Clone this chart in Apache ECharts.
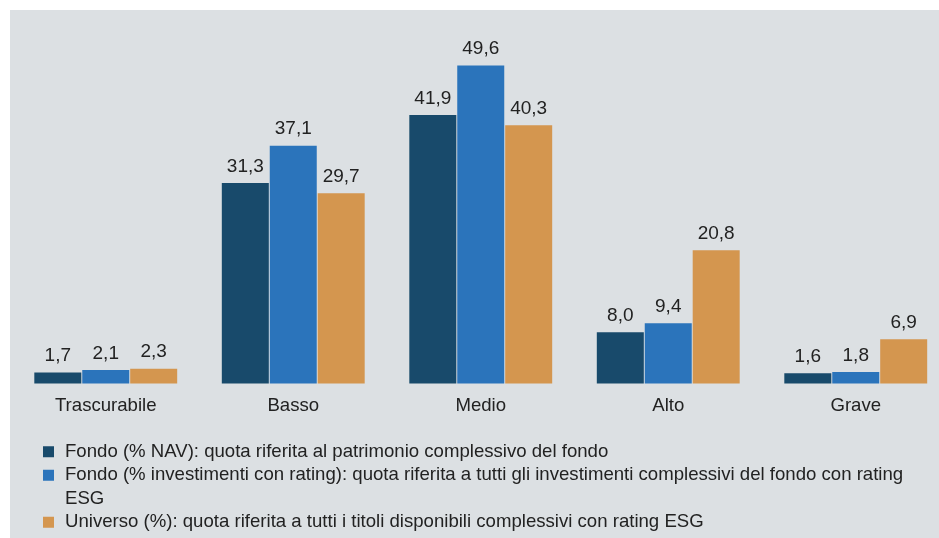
<!DOCTYPE html>
<html>
<head>
<meta charset="utf-8">
<script src="https://cdn.jsdelivr.net/npm/echarts@6/dist/echarts.min.js"></script>
<style>
  html, body { margin: 0; padding: 0; background: #fff; }
  #chart_con { width: 939px; height: 538px; }
</style>
</head>
<body>
<div id="chart_con"></div>
<script>
const categories = ["Trascurabile", "Basso", "Medio", "Alto", "Grave"];
const seriesNames = [
  "Fondo (% NAV): quota riferita al patrimonio complessivo del fondo",
  "Fondo (% investimenti con rating): quota riferita a tutti gli investimenti complessivi del fondo con rating ESG",
  "Universo (%): quota riferita a tutti i titoli disponibili complessivi con rating ESG"
];
const fondoNav = [1.7, 31.3, 41.9, 8.0, 1.6];
const fondoRating = [2.1, 37.1, 49.6, 9.4, 1.8];
const universo = [2.3, 29.7, 40.3, 20.8, 6.9];
const colors = ["#184a6b", "#2b74bb", "#d4964f"];

const fontFamily = "'Liberation Sans', Arial, sans-serif";

function makeSeries(name, data, color) {
  return {
    name: name,
    type: "bar",
    data: data,
    barWidth: 47,
    barGap: "2%",
    itemStyle: { color: color },
    label: {
      show: true,
      position: "top",
      distance: 7,
      fontSize: 19,
      fontFamily: fontFamily,
      color: "#222",
      formatter: function (p) {
        return p.value.toFixed(1).replace(".", ",");
      }
    }
  };
}

const option = {
  animation: false,
  backgroundColor: "#fff",
  color: colors,
  graphic: [
    {
      type: "rect",
      left: 10,
      top: 10,
      silent: true,
      z: -10,
      shape: { width: 929, height: 528 },
      style: { fill: "#dce0e3" }
    }
  ],
  grid: {
    left: 12,
    top: 31,
    width: 937.5,
    height: 352.5,
    outerBoundsMode: "none"
  },
  xAxis: {
    type: "category",
    data: categories,
    axisLine: { show: false },
    axisTick: { show: false },
    axisLabel: {
      fontSize: 18.6,
      fontFamily: fontFamily,
      color: "#222",
      margin: 13
    }
  },
  yAxis: {
    type: "value",
    show: false,
    min: 0,
    max: 55
  },
  // legend item text is padded so the icon lines up with the first line of the wrapped entry
  legend: {
    orient: "vertical",
    left: 43,
    top: 440,
    height: 180,
    padding: 0,
    itemGap: -23.5,
    itemWidth: 11,
    itemHeight: 11,
    icon: "rect",
    selectedMode: false,
    textStyle: {
      fontSize: 18.6,
      fontFamily: fontFamily,
      color: "#222",
      lineHeight: 23.5,
      width: 850,
      overflow: "break",
      rich: { r: {} }
    },
    data: [
      { name: seriesNames[0], textStyle: { padding: [0, 0, 0, 6] } },
      { name: seriesNames[1], textStyle: { padding: [23.5, 0, 0, 6] } },
      { name: seriesNames[2], textStyle: { padding: [23.5, 0, 23.5, 6] } }
    ]
  },
  series: [
    makeSeries(seriesNames[0], fondoNav, colors[0]),
    makeSeries(seriesNames[1], fondoRating, colors[1]),
    makeSeries(seriesNames[2], universo, colors[2])
  ]
};

const chart = echarts.init(document.getElementById("chart_con"));
chart.setOption(option);
window.addEventListener("resize", function () {
  chart.resize();
});
</script>
</body>
</html>
